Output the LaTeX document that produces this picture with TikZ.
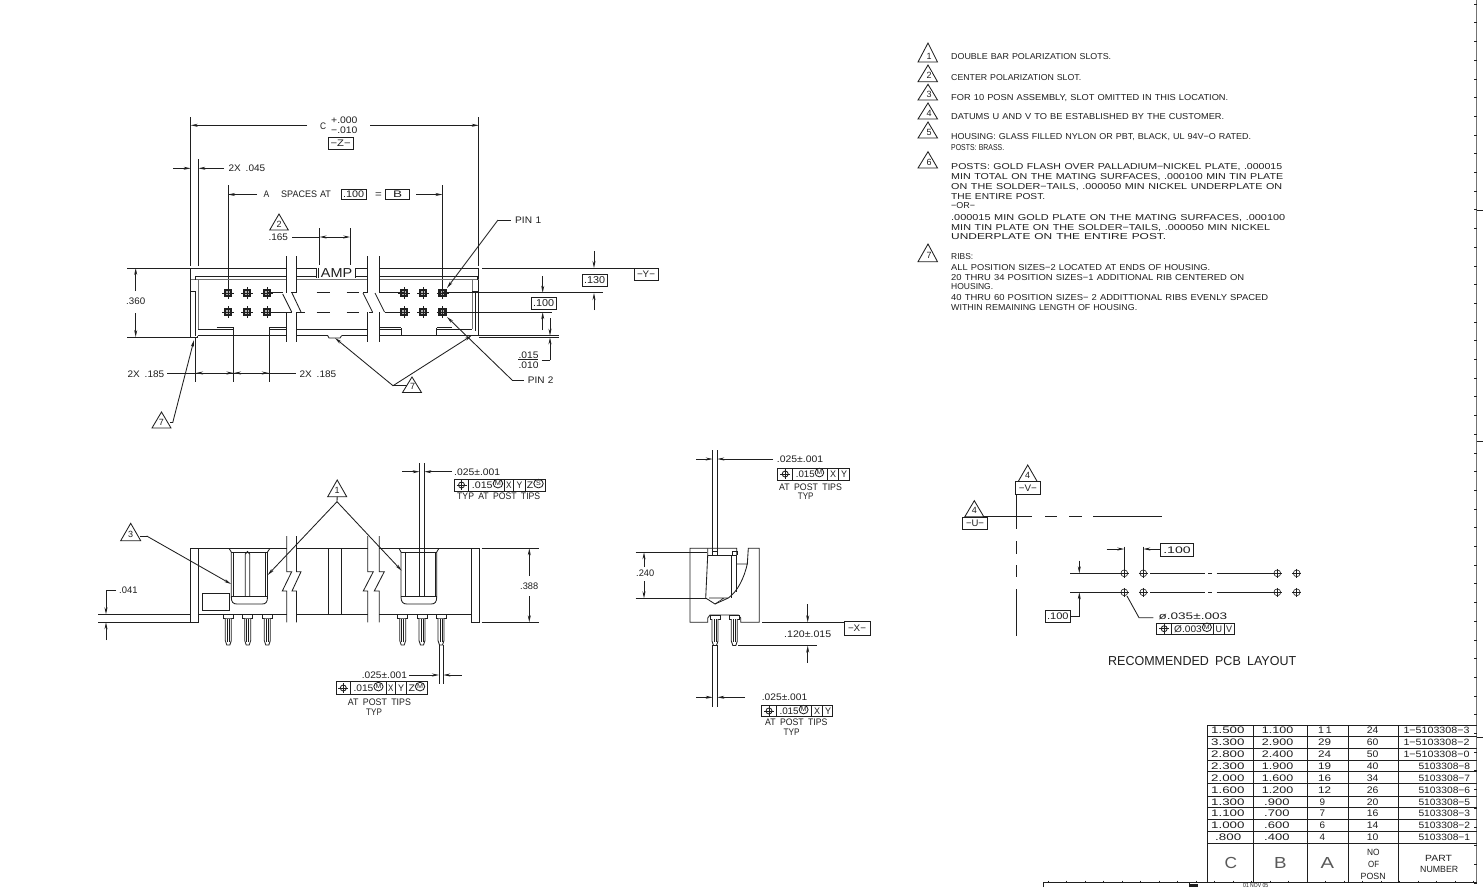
\documentclass[tikz,border=0pt]{standalone}
\usepackage{fontspec}
\usepackage{graphicx}
\usetikzlibrary{arrows.meta}
\setmainfont{Liberation Sans}
\newfontfamily\cad{Liberation Sans}
\definecolor{ink}{gray}{0.12}
\newcounter{lbc}
\newcommand\Lb[5]{\stepcounter{lbc}\node[txt,font=\cad\fontsize{#4}{#4}\selectfont,name=lb\arabic{lbc}] at ({#1},{#3+.36*#4}) {\resizebox{\dimexpr #2pt-#1pt\relax}{\height}{#5}};}
\newcommand\Bx[7]{\stepcounter{lbc}\node[boxn,minimum width={(#3-#1)*1pt},minimum height={(#4-#2)*1pt},font=\cad\fontsize{#5}{#5}\selectfont,name=bx\arabic{lbc}] at ({(#1+#3)/2},{(#2+#4)/2}) {\resizebox{#6pt}{\height}{#7}};}
\newcommand\Tri[6]{\stepcounter{lbc}\draw[ln] (#1-#4,#3) -- (#1,#2) -- (#1+#4,#3) -- cycle;\node[inner sep=0,text=ink,font=\cad\fontsize{9}{9}\selectfont,name=tr\arabic{lbc}] at (#5,#3-6) {#6};}
\newcommand\NT[3]{\draw[ln] (918,#2) -- (928,#1) -- (937.5,#2) -- cycle;\stepcounter{lbc}\node[text=ink,fill=white,inner sep=.3pt,font=\cad\fontsize{9}{9}\selectfont,name=nt\arabic{lbc}] at (929,#2-6) {#3};}
\newcommand\PT[2]{\fill[ink] (#1-4.3,#2-4.3) rectangle (#1+4.3,#2+4.3);\fill[black!30] (#1-1.7,#2-1.7) rectangle (#1+1.7,#2+1.7);\draw[ln] (#1-6,#2) -- (#1+6,#2) (#1,#2-6) -- (#1,#2+6);}
\newcommand\PB[2]{\draw[ln,fill=white] (#1-5,#2) rectangle (#1+5,#2+4);\draw[ln,fill=white] (#1-3,#2+4) -- (#1-3,#2+26) -- (#1-1.5,#2+30.5) -- (#1+1.5,#2+30.5) -- (#1+3,#2+26) -- (#1+3,#2+4);\draw[thn] (#1-1,#2+4) -- (#1-1,#2+27) (#1+1,#2+4) -- (#1+1,#2+27);}
\newcommand\SY[2]{\draw[ln] (#1,#2) circle (3pt);\draw[ln] (#1-5,#2) -- (#1+5,#2) (#1,#2-5) -- (#1,#2+5);}
\newcommand\HL[2]{\draw[thn] (#1,#2) circle (3.4pt);\draw[thn] (#1-4.5,#2) -- (#1+4.5,#2) (#1,#2-4.5) -- (#1,#2+4.5);}
\newcommand\FC[5]{\draw[ln] (#1,#3) rectangle (#2,#4);\foreach \d in {#5} \draw[ln] (\d,#3) -- (\d,#4);}
% circled material-condition letter
\newcommand\cL[1]{\stepcounter{lbc}\tikz[baseline=-2.6pt,x=1pt,y=1pt]{\node[circle,draw=ink,line width=.8pt,inner sep=0,minimum size=8.6pt,text=ink,font=\cad\fontsize{6.5}{6.5}\selectfont,name=cl\arabic{lbc}] {#1};}}
\tikzset{
 ln/.style={draw=ink,line width=.85pt},
 thn/.style={draw=ink,line width=.6pt},
 gy/.style={draw=black!55,line width=1pt},
 ar/.style={ln,-{Stealth[length=7pt,width=3pt]}},
 arr/.style={ln,{Stealth[length=7pt,width=3pt]}-{Stealth[length=7pt,width=3pt]}},
 txt/.style={inner sep=0,anchor=base west,text=ink},
 boxn/.style={draw=ink,line width=.85pt,inner sep=0,text=ink,anchor=center},
}
\begin{document}
\begin{tikzpicture}[x=1pt,y=-1pt]
\useasboundingbox (0,0) rectangle (1483,887);
\fill[white] (0,0) rectangle (1483,887);
% ---------- frame
\draw[gy] (1476.5,0) -- (1476.5,883);
\draw[ln] (1043,887) -- (1043,882.7) -- (1476.5,882.7);
\draw[ln] (1189,882.7) -- (1189,887);
\fill[ink] (1190,883.5) rectangle (1198,887);
\foreach \k in {0,...,47} \draw[thn] (1474.3,{4+18.7*\k}) -- (1476.5,{4+18.7*\k});
\foreach \k in {0,...,23} \draw[thn] ({1048+18.5*\k},880.7) -- ({1048+18.5*\k},882.7);
\foreach \k in {210,441,737} \draw[ln] (1476.5,\k) -- (1483,\k);
\Lb{1243}{1268}{885.5}{6}{01 NOV 05}
% ---------- TOP VIEW
\draw[ln] (190.7,117) -- (190.7,266) (478.7,117) -- (478.7,266);
\draw[ar] (307,125.3) -- (190.7,125.3);
\draw[ar] (370,125.3) -- (478.7,125.3);
\Lb{320}{326}{126}{9.5}{C}
\Lb{331}{357.3}{120}{9.5}{+.000}
\Lb{331}{357.3}{130}{9.5}{−.010}
\Bx{328.3}{137.3}{353}{149}{9.5}{20}{−Z−}
\draw[ln] (198.4,159) -- (198.4,266);
\draw[ar] (173,168.3) -- (190.7,168.3);
\draw[ar] (224,168.3) -- (198.4,168.3);
\Lb{228.3}{265}{168}{9.5}{2X\,\,\,.045}
\draw[ln] (228,185) -- (228,288) (442.5,185) -- (442.5,288);
\draw[ar] (257,194.5) -- (228,194.5);
\draw[ar] (416,194.5) -- (442.5,194.5);
\Lb{263.3}{269}{194.5}{9.5}{A}
\Lb{281}{330.7}{194.5}{9.5}{SPACES\,\,AT}
\Bx{341}{189.3}{366}{199.5}{9.5}{21}{.100}
\Lb{375}{381.7}{194.5}{9.5}{=}
\Bx{385.3}{189.3}{409.7}{199.5}{9.5}{9}{B}
\Tri{279}{214}{230}{9.3}{279}{2}
\Lb{268.3}{287.7}{237}{9.5}{.165}
\draw[ln] (292,237) -- (319,237);
\draw[ln] (319,228) -- (319,265) (350.7,228) -- (350.7,265);
\draw[arr] (319.5,237) -- (350.2,237);
% housing outline
\draw[ln] (127,268) -- (190,268);
\draw[ln] (127,337) -- (190,337);
\draw[ln] (190.7,268) -- (190.7,337) -- (197.5,337);
\draw[ln] (197.5,337) -- (197.5,335.5);
\draw[ln] (478.7,268) -- (478.7,335.5);
\foreach \a/\b in {190.7/286.7,296/316.7,355/367.7,379.3/478.7} \draw[ln] (\a,268) -- (\b,268);
\foreach \a/\b in {195.7/286.7,296/316.7,355/367.7,379.3/472} \draw[thn] (\a,276.2) -- (\b,276.2);
\foreach \a/\b in {190.7/286.7,296/367.7,379.3/478.7} \draw[gy] (\a,279.5) -- (\b,279.5);
\draw[thn] (195.7,276.2) -- (195.7,279.5);
\draw[gy] (198,279.5) -- (198,329);
\draw[ln] (190.7,291) -- (195.7,291) -- (195.7,336);
\draw[gy] (472,279.5) -- (472,329);
\draw[ln] (472,291) -- (478.7,291);
\draw[ln] (475.2,291) -- (475.2,331);
\draw[thn] (472,276.2) -- (477,276.2) -- (477,279.5);
% bottom inner
\foreach \a/\b in {198/233.5,269/286.7,296/367.7,379.3/401,436.7/472} \draw[ln] (\a,329.5) -- (\b,329.5);
\foreach \a/\b in {216.7/233.5,269/286.7,379.3/401,436.7/452} \draw[ln,line width=1.2pt] (\a,327.6) -- (\b,327.6);
\foreach \x in {233.5,269,401,436.7} \draw[ln] (\x,328) -- (\x,335.5);
\foreach \a/\b in {197.5/286.7,296/327.7,341.7/367.7,379.3/478.7} \draw[ln] (\a,335.5) -- (\b,335.5);
\draw[ln] (327.7,335.5) -- (329,338) -- (340,338) -- (341.7,335.5);
\draw[ln] (479,335.7) -- (559,335.7) (479,337.4) -- (559,337.4);
% AMP
\draw[ln] (316.7,268) -- (316.7,278) (318.7,268) -- (318.7,278) (355,268) -- (355,278);
\fill[white] (319.2,268.5) rectangle (354.5,277.8);
\Lb{320.7}{352}{273}{13}{AMP}
% breaks (interrupted between the rows)
\foreach \x in {286.7,296,367.7,379.3} \draw[ln] (\x,256) -- (\x,292.8) (\x,312.2) -- (\x,342);
\draw[ln] (282.7,294) -- (291.7,312) (292,293) -- (301,312);
\draw[ln] (363,293) -- (372.5,312) (375,293) -- (384.5,312);
% pins
\foreach \x in {228,247,267,404,423,442.5} \foreach \y in {293,312} {\PT{\x}{\y}}
\draw[ln] (267,292.8) -- (282.7,292.8) (291,292.8) -- (296.6,292.8);
\draw[ln] (267,312.2) -- (291.7,312.2) (296,312.2) -- (305,312.2);
\foreach \a/\b in {316.7/330,346.7/359} \draw[ln] (\a,292.8) -- (\b,292.8) (\a,312.2) -- (\b,312.2);
\draw[ln] (363,292.8) -- (367.7,292.8) (379.3,292.8) -- (404,292.8);
\draw[ln] (369,312.2) -- (372.5,312.2) (384.5,312.2) -- (404,312.2);
\draw[ln] (442.5,292.8) -- (602.7,292.8);
\draw[ln] (442.5,312.2) -- (551.7,312.2);
% .360
\draw[ar] (135.7,291) -- (135.7,268);
\draw[ar] (135.7,313) -- (135.7,337);
\Lb{126}{145}{301.5}{9.5}{.360}
% 2X .185
\draw[ln] (195.7,337) -- (195.7,382) (233.7,336) -- (233.7,382) (269,336) -- (269,382);
\draw[ln] (167,373) -- (296,373);
\draw[arr] (196,373) -- (233.5,373);
\draw[arr] (234,373) -- (268.8,373);
\Lb{127.3}{164}{373.7}{9.5}{2X\,\,\,.185}
\Lb{299.3}{336}{373.7}{9.5}{2X\,\,\,.185}
% triangles 7
\Tri{161.5}{412}{428}{9.5}{161.5}{7}
\coordinate (t7a) at (170,422.7);
\draw[ln] (t7a) -- (172.7,422.7);
\draw[ar] (172.7,422.7) -- (194,340);
\Tri{412}{377}{392.5}{9.5}{412.5}{7}
\coordinate (t7b) at (393,385.7);
\draw[ln] (t7b) -- (407,385.7);
\draw[ar] (t7b) -- (335,338);
\draw[ar] (t7b) -- (471.7,335.5);
% PIN labels
\coordinate (p1) at (498,220);
\coordinate (p2) at (512,380);
\draw[ln] (p1) -- (511,220);
\draw[ar] (p1) -- (447,288);
\draw[ln] (p2) -- (524,380);
\draw[ar] (p2) -- (447,317);
\Lb{515}{541}{220}{9.5}{PIN\,\,1}
\Lb{527.7}{553.3}{380}{9.5}{PIN\,\,2}
% right dims
\draw[ar] (594,251) -- (594,268);
\draw[ar] (594,310) -- (594,293);
\Bx{582}{274}{607}{286}{10}{21}{.130}
\draw[ln] (482,268.2) -- (634,268.2);
\Bx{634}{268.3}{658}{280}{9.5}{18}{−Y−}
\draw[ar] (542.7,276) -- (542.7,292.8);
\draw[ar] (542.7,330) -- (542.7,312.2);
\Bx{531}{297}{556}{309}{10}{21}{.100}
\draw[ar] (550,318) -- (550,335.7);
\draw[ar] (550,360) -- (550,337.4);
\draw[ln] (541.7,360) -- (550,360);
\draw[ln] (518.3,359.7) -- (538.3,359.7);
\Lb{518.3}{538.3}{355}{9.5}{.015}
\Lb{518.3}{538.3}{365}{9.5}{.010}
% ---------- FRONT VIEW
\draw[ln] (190.7,548.3) rectangle (198.3,622.3);
\draw[ln] (471,548.3) rectangle (479,622.3);
\foreach \a/\b in {190.7/286.7,296/367.7,379.3/479} \draw[ln] (\a,548.3) -- (\b,548.3);
\foreach \a/\b in {198.3/286.7,296/367.7,379.3/471} \draw[ln] (\a,614.3) -- (\b,614.3);
% zigzag breaks
\draw[ln] (286.7,536) -- (286.7,571.7) -- (291.7,571.7) -- (282.3,591) -- (286.7,591) -- (286.7,622.3);
\draw[ln] (296.5,536) -- (296.5,571.7) -- (301,571.7) -- (292,591) -- (296.5,591) -- (296.5,622.3);
\draw[ln] (367.7,536) -- (367.7,571.7) -- (373.3,571.7) -- (363.3,591) -- (367.7,591) -- (367.7,622.3);
\draw[ln] (379.3,536) -- (379.3,571.7) -- (384.3,571.7) -- (374.3,591) -- (379.3,591) -- (379.3,622.3);
\draw[ln] (328.3,548.3) -- (328.3,614.3) (341.3,548.3) -- (341.3,614.3);
\draw[ln] (202.3,593.3) rectangle (229.3,610);
% slot left
\draw[ln] (229,548.3) -- (231.3,552) -- (231.3,597) .. controls (231.3,602) and (233,604) .. (237,604) -- (262,604) .. controls (266,604) and (267.5,602) .. (267.5,597) -- (267.5,552) -- (270,548.3);
\draw[thn] (232.8,552) -- (232.8,596.7) (265.2,552) -- (265.2,596.7);
\draw[thn] (231.3,552) -- (267.5,552);
\draw[ln] (231.3,596.7) -- (267.5,596.7);
\draw[ln] (245.3,596.7) -- (245.3,554) -- (247.5,551.5) -- (249.7,554) -- (249.7,596.7);
% slot right
\draw[ln] (399,548.3) -- (401,552) -- (401,597) .. controls (401,602) and (403,604) .. (407,604) -- (431,604) .. controls (435,604) and (436.7,602) .. (436.7,597) -- (436.7,552) -- (439,548.3);
\draw[thn] (401,552) -- (436.7,552);
\draw[thn] (405,552) -- (405,596.7) (435,552) -- (435,596.7);
\draw[ln] (401,596.7) -- (436.7,596.7);
\draw[ln] (419.6,463) -- (419.6,596.7) (424.3,463) -- (424.3,596.7);
\foreach \x in {228.3,247.7,267.3,402.7,422,441} {\PB{\x}{614.5}}
% .025 top
\draw[ar] (402,471.7) -- (419.6,471.7);
\draw[ar] (451.7,471.7) -- (424.3,471.7);
\Lb{454}{500}{472}{9.5}{.025±.001}
\FC{454}{545.7}{479}{491}{468.3,504,513.3,525}
\SY{461.5}{485}
\Lb{471.7}{503}{485}{9.5}{.015\cL{M}}
\Lb{506}{511.5}{485}{9.5}{X}
\Lb{516.3}{522}{485}{9.5}{Y}
\Lb{526.7}{543.5}{485}{9.5}{Z\cL{S}}
\Lb{457}{540}{496}{9.5}{TYP\,\,\,AT\,\,\,POST\,\,\,TIPS}
% triangles 1,3
\Tri{337.2}{480}{496.7}{9.5}{337.2}{1}
\coordinate (t1) at (337,501.7);
\draw[ln] (337.2,496.7) -- (t1);
\draw[ar] (t1) -- (267.7,575);
\draw[ar] (t1) -- (401.7,570.7);
\Tri{130.7}{523.3}{540.7}{10}{130.7}{3}
\coordinate (t3) at (140,536);
\draw[ln] (t3) -- (146.7,536);
\draw[ar] (146.7,536) -- (231,584);
% .041
\draw[ln] (98,614.3) -- (190.7,614.3) (98,622.3) -- (190.7,622.3);
\draw[ar] (116,590) -- (106,590) -- (106,614.3);
\draw[ar] (106,640) -- (106,622.3);
\Lb{119}{137.3}{590}{9.5}{.041}
% .388
\draw[ln] (481.7,548.3) -- (538.7,548.3) (481.7,622.3) -- (538.7,622.3);
\draw[ar] (529.3,576) -- (529.3,548.3);
\draw[ar] (529.3,596) -- (529.3,622.3);
\Lb{520}{538}{585.7}{9.5}{.388}
% .025 bottom
\draw[ln] (439,645) -- (439,684.3) (443.3,645) -- (443.3,684.3);
\draw[ar] (409.3,675) -- (439,675);
\draw[ar] (461.7,675) -- (443.3,675);
\Lb{361.7}{406.7}{675}{9.5}{.025±.001}
\FC{336}{427.3}{681.7}{694}{350.7,386,395.3,406.7}
\SY{343.3}{688}
\Lb{353.3}{383.3}{688}{9.5}{.015\cL{M}}
\Lb{388}{393.3}{688}{9.5}{X}
\Lb{398}{404}{688}{9.5}{Y}
\Lb{408.3}{425}{688}{9.5}{Z\cL{M}}
\Lb{347.7}{410.7}{701.7}{9.5}{AT\,\,\,POST\,\,\,TIPS}
\Lb{366}{381.7}{711.7}{9.5}{TYP}
% ---------- SIDE VIEW
\draw[ln] (712.7,450) -- (712.7,552) (717.3,450) -- (717.3,552);
\draw[ar] (696,459) -- (712.7,459);
\draw[ar] (773,459) -- (717.3,459);
\Lb{776.7}{823}{459}{9.5}{.025±.001}
\FC{777.7}{849.3}{468.3}{480}{792.7,827.3,838.3}
\SY{785.2}{474}
\Lb{795.7}{824}{474}{9.5}{.015\cL{M}}
\Lb{830}{836}{474}{9.5}{X}
\Lb{841}{847}{474}{9.5}{Y}
\Lb{779}{841.7}{486.7}{9.5}{AT\,\,\,POST\,\,\,TIPS}
\Lb{797.7}{813.3}{496}{9.5}{TYP}
% body
\draw[ln] (736.7,555) -- (736.7,548.3) -- (690,548.3) -- (690,622.3) -- (707.7,622.3) -- (707.7,618) -- (710,615) -- (738.3,615) -- (740.7,618) -- (740.7,622.3) -- (759.3,622.3) -- (759.3,548.3) -- (748.3,548.3) -- (747.3,564);
\draw[ln] (707.7,548.3) -- (707.7,555) -- (705.7,598) -- (715,604) -- (728.3,598);
\draw[ln] (728.3,598) .. controls (738,591) and (744,578) .. (747.3,564) -- (737,564);
\draw[ln] (707.7,555) -- (736.7,555);
\draw[thn] (731.7,555) -- (731.7,598) (736.7,555) -- (736.7,592);
\draw[thn] (715,604) -- (724,598) (709,598) -- (728.3,598);
\draw[ln] (712.7,555) -- (712.7,551.5) -- (717.3,551.5) -- (717.3,555);
\draw[ln] (732,555) -- (732,551.5) -- (737,551.5) -- (737,555);
\foreach \x in {715,734.3} {\PB{\x}{615}}
\draw[ln] (762.3,622.3) -- (844,622.3);
\Bx{844}{621.7}{870}{635}{9.5}{18}{−X−}
\Lb{784}{831}{634}{9.5}{.120±.015}
\draw[ar] (807.7,604) -- (807.7,622.3);
\draw[ar] (807.7,662.7) -- (807.7,645.7);
\draw[ln] (738,645.7) -- (816.7,645.7);
\draw[ln] (635.7,552.3) -- (707,552.3) (635.7,598.3) -- (706,598.3);
\draw[ar] (644,567) -- (644,552.3);
\draw[ar] (644,581) -- (644,598.3);
\Lb{636}{654}{573.3}{9.5}{.240}
\draw[ln] (712.7,645) -- (712.7,706.7) (717.3,645) -- (717.3,706.7);
\draw[ar] (696,697.3) -- (712.7,697.3);
\draw[ar] (745,697.3) -- (717.3,697.3);
\Lb{761.7}{807}{697.3}{9.5}{.025±.001}
\FC{761.7}{832.7}{705}{716.7}{776.7,811.7,822.3}
\SY{769}{711}
\Lb{779.3}{808.3}{711}{9.5}{.015\cL{M}}
\Lb{814}{820}{711}{9.5}{X}
\Lb{825}{831}{711}{9.5}{Y}
\Lb{765}{827.3}{721.7}{9.5}{AT\,\,\,POST\,\,\,TIPS}
\Lb{783.3}{799.3}{731.7}{9.5}{TYP}
% ---------- PCB
\Tri{1027.7}{465}{481.5}{9.5}{1027.7}{4}
\Bx{1015.7}{481.7}{1040}{494}{9.5}{18}{−V−}
\Tri{974.3}{500.7}{516.7}{9.5}{974.3}{4}
\Bx{962.7}{517}{987.3}{529.3}{9.5}{18}{−U−}
\draw[ln] (984,516.7) -- (1031.7,516.7);
\foreach \a/\b in {1045/1056.7,1069/1081.7,1093/1162} \draw[ln] (\a,516.7) -- (\b,516.7);
\draw[ln] (1016.7,494) -- (1016.7,529.3);
\foreach \a/\b in {541/554,565/577.3,589.3/635.7} \draw[ln] (1016.7,\a) -- (1016.7,\b);
\foreach \x in {1124.3,1143.3,1277.3,1296.7} \foreach \y in {573.3,592.3} {\HL{\x}{\y}}
\foreach \y in {573.3,592.3} {
 \draw[ln] (1070,\y) -- (1120,\y);
 \draw[ln] (1150,\y) -- (1205,\y) (1208,\y) -- (1212,\y) (1216.7,\y) -- (1273,\y);
}
\draw[ln] (1124.3,546.7) -- (1124.3,569) (1143.3,546.7) -- (1143.3,569);
\draw[ar] (1106.7,549) -- (1124.3,549);
\draw[ar] (1160.7,549) -- (1143.3,549);
\Bx{1160.7}{543.3}{1193.3}{556.7}{9.5}{27.5}{.100}
\draw[ar] (1079.3,560.7) -- (1079.3,573.3);
\draw[ar] (1070,616.7) -- (1079.3,616.7) -- (1079.3,592.3);
\Bx{1045.7}{610.7}{1070}{622.7}{9.5}{21.5}{.100}
\draw[ln] (1127,596) -- (1139,617.7) -- (1153.3,617.7);
\Lb{1158.3}{1227}{615.7}{9.5}{ø.035±.003}
\FC{1156.7}{1234.3}{623.3}{634}{1171.7,1213.3,1224}
\SY{1164.2}{628.7}
\Lb{1174}{1211.7}{628.7}{9.5}{Ø.003\cL{M}}
\Lb{1215.5}{1222}{628.7}{9.5}{U}
\Lb{1226}{1232}{628.7}{9.5}{V}
\Lb{1108}{1296}{661}{13}{RECOMMENDED\,\,\,PCB\,\,\,LAYOUT}
% ---------- NOTES
\NT{43}{62}{1}\NT{65}{81.7}{2}\NT{84.3}{100}{3}\NT{103}{119}{4}\NT{122}{138}{5}\NT{151.7}{168}{6}\NT{244}{261.7}{7}
\newcommand\NL[3]{\Lb{951}{#1}{#2}{8.6}{#3}}
\NL{1111}{56.7}{DOUBLE\,\,BAR\,\,POLARIZATION\,\,SLOTS.}
\NL{1081}{77.3}{CENTER\,\,POLARIZATION\,\,SLOT.}
\NL{1228}{97.3}{FOR\,\,10\,\,POSN\,\,ASSEMBLY,\,\,SLOT\,\,OMITTED\,\,IN\,\,THIS\,\,LOCATION.}
\NL{1224}{116.7}{DATUMS\,\,U\,\,AND\,\,V\,\,TO\,\,BE\,\,ESTABLISHED\,\,BY\,\,THE\,\,CUSTOMER.}
\NL{1251}{136}{HOUSING:\,\,GLASS\,\,FILLED\,\,NYLON\,\,OR\,\,PBT,\,\,BLACK,\,\,UL\,\,94V−O\,\,RATED.}
\NL{1004}{147.3}{POSTS:\,\,BRASS.}
\NL{1282}{166}{POSTS:\,\,GOLD\,\,FLASH\,\,OVER\,\,PALLADIUM−NICKEL\,\,PLATE,\,\,.000015}
\NL{1283}{176}{MIN\,\,TOTAL\,\,ON\,\,THE\,\,MATING\,\,SURFACES,\,\,.000100\,\,MIN\,\,TIN\,\,PLATE}
\NL{1282}{186}{ON\,\,THE\,\,SOLDER−TAILS,\,\,.000050\,\,MIN\,\,NICKEL\,\,UNDERPLATE\,\,ON}
\NL{1045}{196.7}{THE\,\,ENTIRE\,\,POST.}
\NL{975}{205.7}{−OR−}
\NL{1285}{217.3}{.000015\,\,MIN\,\,GOLD\,\,PLATE\,\,ON\,\,THE\,\,MATING\,\,SURFACES,\,\,.000100}
\NL{1270}{227.3}{MIN\,\,TIN\,\,PLATE\,\,ON\,\,THE\,\,SOLDER−TAILS,\,\,.000050\,\,MIN\,\,NICKEL}
\NL{1166}{236.7}{UNDERPLATE\,\,ON\,\,THE\,\,ENTIRE\,\,POST.}
\NL{973}{256.7}{RIBS:}
\NL{1210}{267.3}{ALL\,\,POSITION\,\,SIZES−2\,\,LOCATED\,\,AT\,\,ENDS\,\,OF\,\,HOUSING.}
\NL{1244}{277.3}{20\,\,THRU\,\,34\,\,POSITION\,\,SIZES−1\,\,ADDITIONAL\,\,RIB\,\,CENTERED\,\,ON}
\NL{993}{286.7}{HOUSING.}
\NL{1268}{297.3}{40\,\,THRU\,\,60\,\,POSITION\,\,SIZES−\,\,2\,\,ADDITTIONAL\,\,RIBS\,\,EVENLY\,\,SPACED}
\NL{1137}{307.3}{WITHIN\,\,REMAINING\,\,LENGTH\,\,OF\,\,HOUSING.}
% ---------- TABLE
\foreach \x in {1207.3,1253.3,1307.3,1348.3,1398.7} \draw[ln] (\x,725) -- (\x,882.7);
\draw[ln] (1207.3,725) -- (1476.5,725);
\foreach \y in {736.3,748.3,760,771.7,783.3,796,807.7,819.3,831.7,843.3} \draw[ln] (1207.3,\y) -- (1476.5,\y);
\newcommand\RW[8]{\Lb{#2}{#3}{#1}{9.5}{#4}\Lb{#5}{#6}{#1}{9.5}{#7}\Lb{1366.7}{1378.3}{#1}{9.5}{#8}}
\newcommand\AC[3]{\Lb{#1}{#2}{#3}{9.5}}
\newcommand\PN[2]{\Lb{1403.3}{1469.3}{#1}{9.2}{#2}}
\newcommand\PM[2]{\Lb{1418.3}{1470}{#1}{9.2}{#2}}
\RW{730}{1211}{1244.3}{1.500}{1261.7}{1293}{1.100}{24}\AC{1318}{1331.5}{730}{1\,1}\PN{730}{1−5103308−3}
\RW{742.3}{1211}{1244.3}{3.300}{1261.7}{1293}{2.900}{60}\AC{1318}{1331}{742.3}{29}\PN{742.3}{1−5103308−2}
\RW{754.3}{1211}{1244.3}{2.800}{1261.7}{1293}{2.400}{50}\AC{1318}{1331}{754.3}{24}\PN{754.3}{1−5103308−0}
\RW{765.7}{1211}{1244.3}{2.300}{1261.7}{1293}{1.900}{40}\AC{1318}{1331}{765.7}{19}\PM{765.7}{5103308−8}
\RW{777.7}{1211}{1244.3}{2.000}{1261.7}{1293}{1.600}{34}\AC{1318}{1331}{777.7}{16}\PM{777.7}{5103308−7}
\RW{790}{1211}{1244.3}{1.600}{1261.7}{1293}{1.200}{26}\AC{1318}{1331}{790}{12}\PM{790}{5103308−6}
\RW{802.3}{1211}{1244.3}{1.300}{1264}{1289.3}{.900}{20}\AC{1319.5}{1325}{802.3}{9}\PM{802.3}{5103308−5}
\RW{813.3}{1211}{1244.3}{1.100}{1264}{1289.3}{.700}{16}\AC{1319.5}{1325}{813.3}{7}\PM{813.3}{5103308−3}
\RW{825}{1211}{1244.3}{1.000}{1264}{1289.3}{.600}{14}\AC{1319.5}{1325}{825}{6}\PM{825}{5103308−2}
\RW{837.3}{1215}{1241}{.800}{1264}{1289.3}{.400}{10}\AC{1319.5}{1325}{837.3}{4}\PM{837.3}{5103308−1}
\Lb{1224.5}{1237}{863}{16}{\color{black!65}C}
\Lb{1274}{1286.5}{863}{16}{\color{black!65}B}
\Lb{1320.5}{1334}{863}{16}{\color{black!65}A}
\Lb{1367}{1379.5}{852.3}{9}{NO}
\Lb{1368}{1379}{864}{9}{OF}
\Lb{1360.5}{1385.5}{876}{9}{POSN}
\Lb{1425}{1451.7}{858.3}{9}{PART}
\Lb{1420}{1458}{869.3}{9}{NUMBER}
\end{tikzpicture}
\end{document}
